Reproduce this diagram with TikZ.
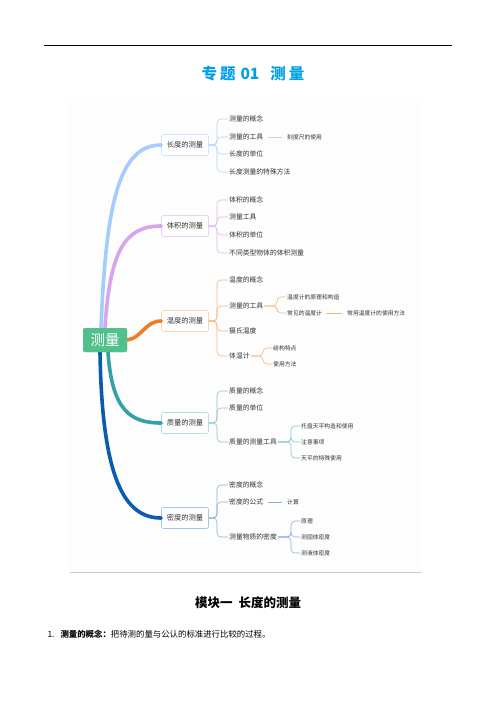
\documentclass[tikz,border=0pt]{standalone}
\usepackage{fontspec}
\setmainfont{Noto Sans CJK SC}
\usetikzlibrary{calc}
\definecolor{ctitle}{HTML}{00A0E9}
\definecolor{cgreen}{HTML}{52C08C}
\definecolor{cA}{HTML}{A3CDFB}\definecolor{bA}{HTML}{CDE4FC}\definecolor{lA}{HTML}{B3D6F9}
\definecolor{cB}{HTML}{D7A5EC}\definecolor{bB}{HTML}{EBCFF5}\definecolor{lB}{HTML}{DDB8EE}
\definecolor{cC}{HTML}{F07D22}\definecolor{bC}{HTML}{FAD3B3}\definecolor{lC}{HTML}{F5B57E}
\definecolor{cD}{HTML}{36A0A6}\definecolor{bD}{HTML}{B4DFE2}\definecolor{lD}{HTML}{86C8CD}
\definecolor{cE}{HTML}{0B5CAD}\definecolor{bE}{HTML}{A9C6E6}\definecolor{lE}{HTML}{88B0DC}
\definecolor{txt}{HTML}{333333}
\tikzset{
  branch/.style={draw=#1, fill=white, rounded corners=1.5pt, line width=0.6pt,
    minimum width=47pt, minimum height=21pt, inner sep=1pt, text=txt,
    font=\fontsize{7.3}{8}\selectfont},
  leaf/.style={anchor=west, inner xsep=1pt, inner ysep=1pt, text=txt,
    font=\fontsize{6.8}{8}\selectfont},
  sub/.style={anchor=west, inner xsep=1pt, inner ysep=1pt, text=txt,
    font=\fontsize{5.8}{7}\selectfont},
  trunk/.style={draw=#1, line width=3.6pt, line cap=round},
  twig/.style={draw=#1, line width=0.6pt, rounded corners=4pt},
  centre/.style={fill=cgreen, rounded corners=2pt, minimum width=44pt, minimum height=24pt,
    text=white, font=\fontsize{14.5}{16}\selectfont},
}
\begin{document}
\begin{tikzpicture}[x=1pt,y=-1pt]
\useasboundingbox (0,0) rectangle (496,702);
\fill[white] (0,0) rectangle (496,702);
% header rule and title
\coordinate (r1) at (44,45); \coordinate (r2) at (452,45);
\draw[line width=0.9pt] (r1) -- (r2);
\node[text=ctitle, font=\fontsize{15.5}{18}\bfseries] (title) at (253,74)
  {专\hspace{3pt}题\hspace{5pt}01\hspace{11pt}测\hspace{3pt}量};
% mind map image area
\fill[black!0.7] (70,97) rectangle (422,572);
\coordinate (m1) at (70,572); \coordinate (m2) at (422,572);
\draw[black!20, line width=0.6pt] (m1) -- (m2);
% center
\node[centre] (c) at (105,340) {测量};
% branches
\node[branch=bA] (b1) at (185,145) {长度的测量};
\node[branch=bB] (b2) at (185,226) {体积的测量};
\node[branch=bC] (b3) at (185,321) {温度的测量};
\node[branch=bD] (b4) at (185,423) {质量的测量};
\node[branch=bE] (b5) at (185,518) {密度的测量};
% trunks
\draw[trunk=cA] ($(c.north)+(-4,0)$) .. controls (106,200) and (120,145) .. (b1.west);
\draw[trunk=cB] ($(c.north)+(0,0)$) .. controls (110,250) and (125,226) .. (b2.west);
\draw[trunk=cC] (c.east) .. controls (142,338) and (145,321) .. (b3.west);
\draw[trunk=cD] ($(c.south)+(3,0)$) .. controls (112,410) and (130,423) .. (b4.west);
\draw[trunk=cE] ($(c.south)+(-5,0)$) .. controls (102,480) and (125,518) .. (b5.west);
\node[centre] at (c) {测量};
% ---- 长度
\node[leaf] (a1) at (228,119) {测量的概念};
\node[leaf] (a2) at (228,137) {测量的工具};
\node[leaf] (a3) at (228,154) {长度的单位};
\node[leaf] (a4) at (228,172) {长度测量的特殊方法};
\node[sub] (a21) at (286,137) {刻度尺的使用};
\foreach \n in {a1,a2,a3,a4} \draw[twig=lA] (b1.east) -| ($(\n.west)+(-11,0)$) -- (\n.west);
\draw[lA, line width=0.6pt] ($(a2.east)+(4,0)$) -- ($(a21.west)+(-4,0)$);
% ---- 体积
\node[leaf] (v1) at (228,200) {体积的概念};
\node[leaf] (v2) at (228,217) {测量工具};
\node[leaf] (v3) at (228,235) {体积的单位};
\node[leaf] (v4) at (228,253) {不同类型物体的体积测量};
\foreach \n in {v1,v2,v3,v4} \draw[twig=lB] (b2.east) -| ($(\n.west)+(-11,0)$) -- (\n.west);
% ---- 温度
\node[leaf] (t1) at (228,280) {温度的概念};
\node[leaf] (t2) at (228,306) {测量的工具};
\node[leaf] (t3) at (228,331) {摄氏温度};
\node[leaf] (t4) at (228,356) {体温计};
\foreach \n in {t1,t2,t3,t4} \draw[twig=lC] (b3.east) -| ($(\n.west)+(-11,0)$) -- (\n.west);
\node[sub] (t21) at (286,297) {温度计的原理和构造};
\node[sub] (t22) at (286,313) {常见的温度计};
\node[sub] (t221) at (346,313) {常用温度计的使用方法};
\foreach \n in {t21,t22} \draw[twig=lC] (t2.east) -| ($(\n.west)+(-9,0)$) -- (\n.west);
\draw[lC, line width=0.6pt] ($(t22.east)+(3,0)$) -- ($(t221.west)+(-4,0)$);
\node[sub] (t41) at (272,348) {结构特点};
\node[sub] (t42) at (272,364) {使用方法};
\foreach \n in {t41,t42} \draw[twig=lC] (t4.east) -| ($(\n.west)+(-9,0)$) -- (\n.west);
% ---- 质量
\node[leaf] (q1) at (228,391) {质量的概念};
\node[leaf] (q2) at (228,408) {质量的单位};
\node[leaf] (q3) at (228,442) {质量的测量工具};
\foreach \n in {q1,q2,q3} \draw[twig=lD] (b4.east) -| ($(\n.west)+(-11,0)$) -- (\n.west);
\node[sub] (q31) at (300,426) {托盘天平构造和使用};
\node[sub] (q32) at (300,442) {注意事项};
\node[sub] (q33) at (300,458) {天平的特殊使用};
\foreach \n in {q31,q32,q33} \draw[twig=lD] (q3.east) -| ($(\n.west)+(-9,0)$) -- (\n.west);
% ---- 密度
\node[leaf] (d1) at (228,485) {密度的概念};
\node[leaf] (d2) at (228,502) {密度的公式};
\node[leaf] (d3) at (228,537) {测量物质的密度};
\foreach \n in {d1,d2,d3} \draw[twig=lE] (b5.east) -| ($(\n.west)+(-11,0)$) -- (\n.west);
\node[sub] (d21) at (286,502) {计算};
\draw[lE, line width=0.6pt] ($(d2.east)+(4,0)$) -- ($(d21.west)+(-4,0)$);
\node[sub] (d31) at (300,521) {原理};
\node[sub] (d32) at (300,537) {测固体密度};
\node[sub] (d33) at (300,553) {测液体密度};
\foreach \n in {d31,d32,d33} \draw[twig=lE] (d3.east) -| ($(\n.west)+(-9,0)$) -- (\n.west);
% ---- text below
\node[font=\fontsize{12.5}{14}\bfseries] (h) at (248,603) {模块一\hspace{6pt}长度的测量};
\node[anchor=west, font=\fontsize{8.4}{10}\selectfont] (p) at (44,634) {1.\hspace{6pt}\textbf{测量的概念：}把待测的量与公认的标准进行比较的过程。};
\end{tikzpicture}
\end{document}
